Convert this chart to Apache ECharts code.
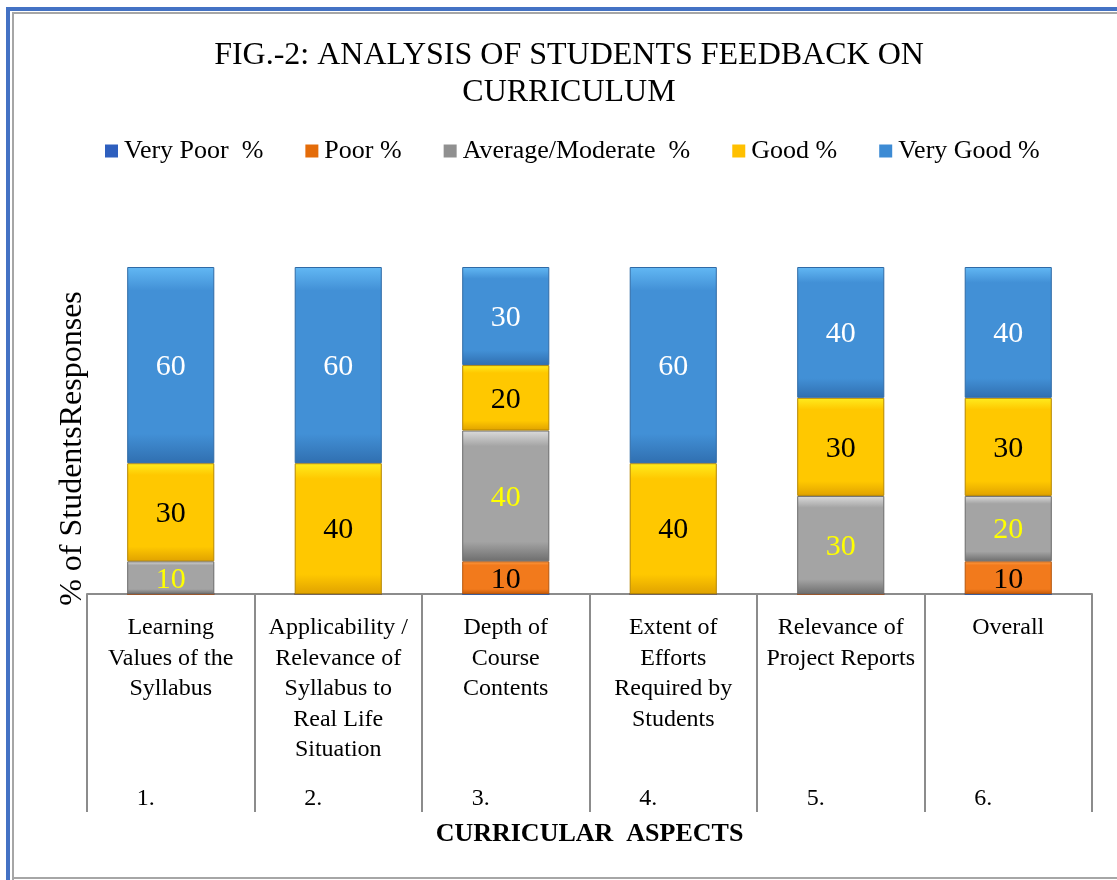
<!DOCTYPE html>
<html>
<head>
<meta charset="utf-8">
<script src="https://cdn.jsdelivr.net/npm/echarts@6/dist/echarts.min.js"></script>
<style>
  html, body { margin: 0; padding: 0; background: #fff; }
  #main { width: 1117px; height: 880px; }
</style>
</head>
<body>
<div id="main"></div>
<script>
const categories = [
  'Learning\nValues of the\nSyllabus',
  'Applicability /\nRelevance of\nSyllabus to\nReal Life\nSituation',
  'Depth of\nCourse\nContents',
  'Extent of\nEfforts\nRequired by\nStudents',
  'Relevance of\nProject Reports',
  'Overall'
]
const serialNos = ['1.', '2.', '3.', '4.', '5.', '6.']
const veryPoor = [0, 0, 0, 0, 0, 0]
const poor = [0, 0, 10, 0, 0, 10]
const average = [10, 0, 40, 0, 30, 20]
const good = [30, 40, 20, 40, 30, 30]
const veryGood = [60, 60, 30, 60, 40, 40]

const font = '"Liberation Serif", "Times New Roman", serif'

// vertical bevel-ish gradient
function bevel(light, mid, dark) {
  return {
    type: 'linear', x: 0, y: 0, x2: 0, y2: 1,
    colorStops: [
      { offset: 0, color: light },
      { offset: 0.12, color: mid },
      { offset: 0.85, color: mid },
      { offset: 1, color: dark }
    ]
  }
}

function makeSeries(name, data, fill, border, legendColor, labelColor) {
  return {
    name: name,
    type: 'bar',
    stack: 'total',
    barWidth: '52%',
    data: data,
    itemStyle: { color: fill, borderColor: border, borderWidth: 1 },
    label: {
      show: true,
      position: 'inside',
      offset: [0, 2],
      color: labelColor,
      fontFamily: font,
      fontSize: 30,
      formatter: p => (p.value ? p.value : '')
    },
    legendColor: legendColor
  }
}

const chartDom = document.getElementById('main')
const myChart = echarts.init(chartDom)

const series = [
  makeSeries('Very Poor  %', veryPoor, '#2E5FBE', '#244c99', '#2E5FBE', '#fff'),
  makeSeries('Poor %', poor, bevel('#FFA04A', '#F27A1C', '#C45A08'), '#B5560C', '#E46C0A', '#000'),
  makeSeries('Average/Moderate  %', average, bevel('#DCDCDC', '#A4A4A4', '#6E6E6E'), '#6a6a6a', '#909090', '#FFFF00'),
  makeSeries('Good %', good, bevel('#FFEC1E', '#FFC800', '#E0A200'), '#B58600', '#FFC000', '#000'),
  makeSeries('Very Good %', veryGood, bevel('#62B8F4', '#4290D6', '#306FB0'), '#2f6aa6', '#3D8BD4', '#fff')
]

let option = {
  backgroundColor: '#fff',
  animation: false,
  title: {
    text: 'FIG.-2: ANALYSIS OF STUDENTS FEEDBACK ON\nCURRICULUM',
    left: 564,
    textAlign: 'center',
    top: 32,
    textStyle: {
      fontFamily: font,
      fontSize: 32,
      fontWeight: 'normal',
      color: '#000',
      lineHeight: 37
    }
  },
  legend: {
    left: 100,
    top: 133,
    icon: 'rect',
    itemWidth: 13,
    itemHeight: 13,
    itemGap: 42,
    textStyle: { fontFamily: font, fontSize: 26, color: '#000', padding: [0, 0, 0, 1] },
    data: series.map(s => ({ name: s.name, itemStyle: { color: s.legendColor, borderWidth: 0 } }))
  },
  grid: { left: 87, right: 25, top: 267, bottom: 286 },
  xAxis: [
    {
      type: 'category',
      data: categories,
      axisLine: { lineStyle: { color: '#8c8c8c', width: 2 } },
      axisTick: { show: true, length: 218, lineStyle: { color: '#8c8c8c', width: 2 } },
      axisLabel: {
        interval: 0,
        margin: 19,
        fontFamily: font,
        fontSize: 24,
        lineHeight: 30.4,
        color: '#000',
        verticalAlign: 'top'
      },
      name: 'CURRICULAR  ASPECTS',
      nameLocation: 'middle',
      nameGap: 227,
      nameTextStyle: { fontFamily: font, fontSize: 26, fontWeight: 'bold', color: '#000', verticalAlign: 'top' }
    },
    {
      type: 'category',
      position: 'bottom',
      data: serialNos,
      axisLine: { show: false },
      axisTick: { show: false },
      axisLabel: {
        interval: 0,
        margin: 193,
        fontFamily: font,
        fontSize: 24,
        color: '#000',
        padding: [0, 50, 0, 0]
      }
    }
  ],
  yAxis: {
    type: 'value',
    min: 0,
    max: 100,
    axisLine: { show: false },
    axisTick: { show: false },
    axisLabel: { show: false },
    splitLine: { show: false },
    name: '% of StudentsResponses',
    nameLocation: 'middle',
    nameGap: -2,
    nameTextStyle: { fontFamily: font, fontSize: 32, color: '#000', padding: [0, 36, 0, 0] }
  },
  graphic: [
    // outer blue frame (top and left)
    { type: 'rect', shape: { x: 6, y: 7, width: 1111, height: 4 }, style: { fill: '#4472C4' }, silent: true },
    { type: 'rect', shape: { x: 6, y: 7, width: 4, height: 873 }, style: { fill: '#4472C4' }, silent: true },
    // inner gray frame
    { type: 'rect', shape: { x: 12, y: 12, width: 1105, height: 2 }, style: { fill: '#a6a6a6' }, silent: true },
    { type: 'rect', shape: { x: 12, y: 12, width: 2, height: 868 }, style: { fill: '#a6a6a6' }, silent: true },
    { type: 'rect', shape: { x: 12, y: 877, width: 1105, height: 2 }, style: { fill: '#a6a6a6' }, silent: true }
  ],
  series: series.map(s => {
    const c = Object.assign({}, s)
    delete c.legendColor
    return c
  })
}
myChart.setOption(option)
</script>
</body>
</html>
